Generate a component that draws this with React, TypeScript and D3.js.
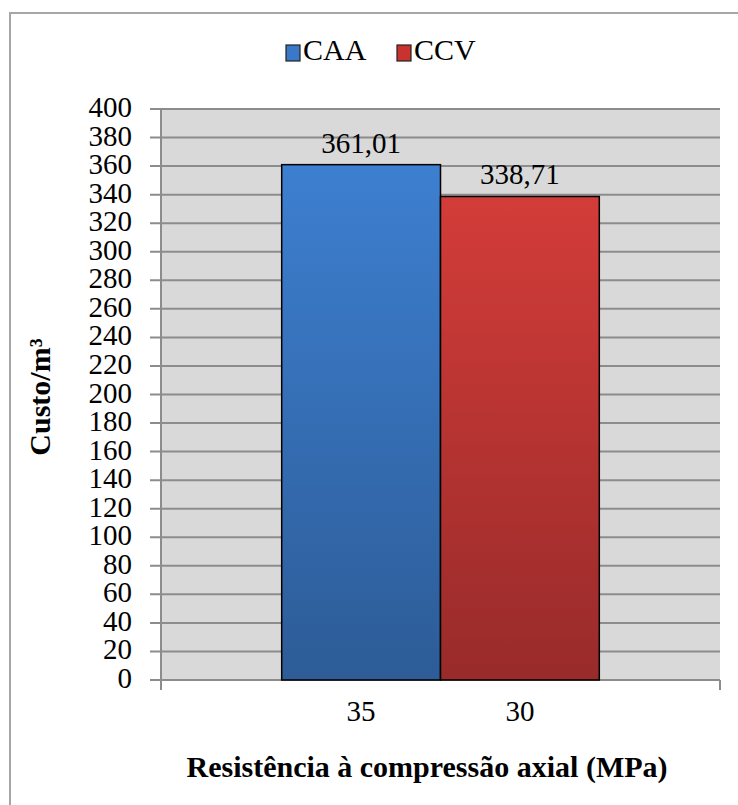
import React from "react";
import * as d3 from "d3";

const series = ["CAA", "CCV"];
const values = [361.01, 338.71];
const valueLabels = ["361,01", "338,71"];
const xLabels = ["35", "30"];
const yTicks = [0, 20, 40, 60, 80, 100, 120, 140, 160, 180, 200, 220, 240, 260, 280, 300, 320, 340, 360, 380, 400];
const topColors = ["#3d7fd0", "#d33c39"];
const bottomColors = ["#2d5c97", "#982b2a"];
const legendColors = ["#3a78c8", "#c8332f"];

const W = 738, H = 805;
const left = 161, right = 720, top = 109, bottom = 680;
const font = "Liberation Serif";

function T({ x, y, anchor = "start", size = 29, bold = false, rotate = 0, children }: any) {
  return (
    <text
      transform={`translate(${x},${y}) rotate(${rotate})`}
      textAnchor={anchor}
      fontSize={size}
      fontWeight={bold ? "bold" : "normal"}
      fill="#000"
      style={{ fontFamily: font }}
    >
      {children}
    </text>
  );
}

export default function App() {
  const y = d3.scaleLinear().domain([0, 400]).range([bottom, top]);
  const x = d3.scaleBand().domain(series).range([left, right]).paddingInner(0).paddingOuter(0.76);
  const bw = x.bandwidth();
  return (
    <svg width={W} height={H} style={{ position: "absolute", left: 0, top: 0, background: "#fff" }}>
      <defs>
        {series.map((s, i) => (
          <linearGradient key={s} id={`g${i}`} x1="0" y1="0" x2="0" y2="1">
            <stop offset="0" stopColor={topColors[i]} />
            <stop offset="1" stopColor={bottomColors[i]} />
          </linearGradient>
        ))}
      </defs>
      <rect x={10} y={13} width={760} height={820} fill="#fff" stroke="#a6a6a6" strokeWidth={2} />
      <rect x={left} y={top} width={right - left} height={bottom - top} fill="#d9d9d9" />
      {yTicks.map((t) => (
        <g key={t}>
          <line x1={150} x2={right} y1={y(t)} y2={y(t)} stroke="#8c8c8c" strokeWidth={2} />
          <T x={132} y={y(t) + 8} anchor="end">{t}</T>
        </g>
      ))}
      <line x1={left} x2={left} y1={top} y2={bottom + 10} stroke="#8c8c8c" strokeWidth={2} />
      <line x1={right} x2={right} y1={bottom} y2={bottom + 10} stroke="#8c8c8c" strokeWidth={2} />
      {series.map((s, i) => (
        <g key={s}>
          <rect x={x(s)} y={y(values[i])} width={bw} height={bottom - y(values[i])} fill={`url(#g${i})`} stroke="#000" strokeWidth={1.5} />
          <T x={(x(s) as number) + bw / 2} y={y(values[i]) - 12} anchor="middle">{valueLabels[i]}</T>
          <T x={(x(s) as number) + bw / 2} y={721} anchor="middle">{xLabels[i]}</T>
        </g>
      ))}
      <T x={50} y={397} anchor="middle" bold size={30} rotate={-90}>Custo/m³</T>
      <T x={427} y={777} anchor="middle" bold size={30}>Resistência à compressão axial (MPa)</T>
      {series.map((s, i) => {
        const lx = [286, 397][i];
        return (
          <g key={"l" + s}>
            <rect x={lx} y={45} width={14} height={16} fill={legendColors[i]} stroke="#222" strokeWidth={1.2} />
            <T x={lx + 17} y={60} size={30}>{s}</T>
          </g>
        );
      })}
    </svg>
  );
}
